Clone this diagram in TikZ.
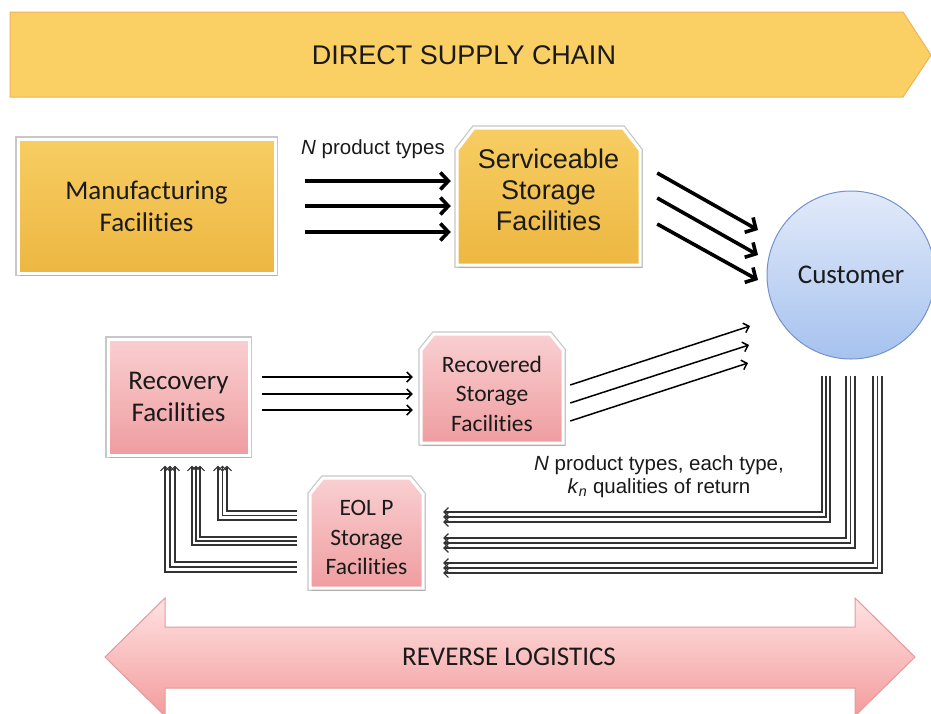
\documentclass[tikz,border=0pt]{standalone}
\usepackage{fontspec}
\setmainfont{Carlito}[Ligatures={NoCommon}]
\newfontfamily\arialf{Liberation Sans}
\usetikzlibrary{shadows,arrows.meta}
\definecolor{bannerY}{HTML}{FAD065}
\definecolor{bannerE}{HTML}{F2B25A}
\definecolor{goldT}{HTML}{F7CD62}
\definecolor{goldB}{HTML}{EDB742}
\definecolor{pinkT}{HTML}{F9CFD1}
\definecolor{pinkB}{HTML}{EF9DA0}
\definecolor{pinkBT}{HTML}{FFE2E2}
\definecolor{pinkBB}{HTML}{F39C9D}
\definecolor{pinkE}{HTML}{E39A9A}
\definecolor{blueT}{HTML}{E2EAFA}
\definecolor{blueB}{HTML}{A6C2EE}
\definecolor{blueE}{HTML}{7393CB}
\definecolor{txt}{HTML}{1A1A1A}
\definecolor{retc}{HTML}{333333}
\begin{document}
\begin{tikzpicture}[x=1pt,y=1pt,
  frame/.style={preaction={draw=black!22, line width=5.5pt},
    draw=white, line width=3pt,
    drop shadow={shadow xshift=1.5pt, shadow yshift=-3pt, opacity=0.3}},
  gbox/.style={frame, top color=goldT, bottom color=goldB},
  pbox/.style={frame, top color=pinkT, bottom color=pinkB},
  boxnode/.style={inner sep=0pt, draw=none},
  boxtext/.style={align=center, text=txt, font=\fontsize{27}{32}\selectfont},
  thickarrow/.style={line width=3.6pt, -{Straight Barb[length=8pt,width=17pt]}},
  thinarrow/.style={line width=1.5pt, -{Straight Barb[length=5pt,width=10pt]}},
  retline/.style={draw=retc, line width=1.1pt, -{Straight Barb[length=4.5pt,width=9pt]}}
]
\useasboundingbox (0,0) rectangle (931,-713);
\fill[white] (0,0) rectangle (931,-713);

% top banner
\path[fill=bannerY, draw=bannerE, line width=1pt] (10,-12) -- (903,-12) -- (931,-55) -- (903,-97) -- (10,-97) -- cycle;
\node[text=txt, font=\arialf\fontsize{27}{30}\selectfont] (dsc) at (464,-55) {DIRECT SUPPLY CHAIN};

% bottom banner
\path[top color=pinkBT, bottom color=pinkBB, draw=pinkE, line width=1pt]
  (105,-657) -- (165,-598) -- (165,-627) -- (855,-627) -- (855,-598) -- (915,-657)
  -- (855,-716) -- (855,-688) -- (165,-688) -- (165,-716) -- cycle;
\node[text=txt, font=\fontsize{27}{30}\selectfont] (rl) at (509,-657) {REVERSE LOGISTICS};

% manufacturing
\node[gbox, boxtext, minimum width=257pt, minimum height=134pt] (mf) at (146.5,-206) {Manufacturing\\Facilities};

% serviceable storage
\path[gbox] (457,-265) -- (457,-150) -- (474,-128) -- (623,-128) -- (640,-150) -- (640,-265) -- cycle;
\node[boxnode, minimum width=183pt, minimum height=137pt] (ss) at (548.5,-196.5) {};
\node[boxtext, font=\arialf\fontsize{27}{31}\selectfont] (sst) at (548.5,-189.5) {Serviceable\\Storage\\Facilities};

% customer
\node[circle, minimum size=168pt, inner sep=0pt, top color=blueT, bottom color=blueB, draw=blueE, line width=1pt, boxtext] (cu) at (851,-275) {Customer};

% recovery facilities
\node[pbox, boxtext, minimum width=141pt, minimum height=116pt] (rf) at (178.5,-397) {Recovery\\Facilities};

% recovered storage
\path[pbox] (421,-443) -- (421,-350) -- (434,-334) -- (550,-334) -- (563,-350) -- (563,-443) -- cycle;
\node[boxnode, minimum width=142pt, minimum height=109pt] (rs) at (492,-388.5) {};
\node[boxtext, font=\fontsize{23.5}{29.5}\selectfont] (rst) at (492,-393.5) {Recovered\\Storage\\Facilities};

% EOL storage
\path[pbox] (310,-588) -- (310,-494) -- (323,-478) -- (410,-478) -- (423,-494) -- (423,-588) -- cycle;
\node[boxnode, minimum width=113pt, minimum height=110pt] (eol) at (366.5,-533) {};
\node[boxtext, font=\fontsize{23.5}{29.5}\selectfont] (eolt) at (366.5,-537.5) {EOL P\\Storage\\Facilities};

% labels
\node[text=txt, font=\arialf\fontsize{20.5}{23}\selectfont] (lab1) at (373,-149) {\textit{N} product types};
\node[text=txt, align=center, font=\arialf\fontsize{20.5}{23.5}\selectfont] (lab2) at (659,-476.5)
  {\textit{N} product types, each type,\\\textit{k}\textsubscript{\textit{n}} qualities of return};

% manufacturing -> serviceable
\draw[thickarrow] ([shift={(28,25)}]mf.east) -- ([shift={(-6,15.5)}]ss.west);
\draw[thickarrow] ([shift={(28,0)}]mf.east) -- ([shift={(-6,-9.5)}]ss.west);
\draw[thickarrow] ([shift={(28,-26)}]mf.east) -- ([shift={(-6,-35.5)}]ss.west);

% serviceable -> customer
\draw[thickarrow] ([shift={(17,23.5)}]ss.east) -- ([shift={(-93,45)}]cu.center);
\draw[thickarrow] ([shift={(17,-1.5)}]ss.east) -- ([shift={(-93,20)}]cu.center);
\draw[thickarrow] ([shift={(17,-27.5)}]ss.east) -- ([shift={(-93,-5)}]cu.center);

% recovery -> recovered
\draw[thinarrow] ([shift={(11,20)}]rf.east) -- ([shift={(-8,11.5)}]rs.west);
\draw[thinarrow] ([shift={(11,3)}]rf.east) -- ([shift={(-8,-5.5)}]rs.west);
\draw[thinarrow] ([shift={(11,-13)}]rf.east) -- ([shift={(-8,-21.5)}]rs.west);

% recovered -> customer
\draw[thinarrow] ([shift={(7,3.5)}]rs.east) -- ([shift={(-101,-51)}]cu.center);
\draw[thinarrow] ([shift={(7,-14.5)}]rs.east) -- ([shift={(-102,-70)}]cu.center);
\draw[thinarrow] ([shift={(7,-32.5)}]rs.east) -- ([shift={(-103,-88)}]cu.center);

% customer -> EOL storage (returns)
\draw[retline] ([shift={(-29,-16)}]cu.south) |- ([shift={(20,21)}]eol.east);
\draw[retline] ([shift={(-25,-16)}]cu.south) |- ([shift={(20,16)}]eol.east);
\draw[retline] ([shift={(-21,-16)}]cu.south) |- ([shift={(20,11)}]eol.east);
\draw[retline] ([shift={(-5,-16)}]cu.south) |- ([shift={(20,-5)}]eol.east);
\draw[retline] ([shift={(-0.5,-16)}]cu.south) |- ([shift={(20,-10)}]eol.east);
\draw[retline] ([shift={(4,-16)}]cu.south) |- ([shift={(20,-15)}]eol.east);
\draw[retline] ([shift={(22,-16)}]cu.south) |- ([shift={(20,-30)}]eol.east);
\draw[retline] ([shift={(26.5,-16)}]cu.south) |- ([shift={(20,-35)}]eol.east);
\draw[retline] ([shift={(31,-16)}]cu.south) |- ([shift={(20,-40)}]eol.east);

% EOL storage -> recovery
\draw[retline] ([shift={(-13,22)}]eol.west) -| ([shift={(48.5,-9)}]rf.south);
\draw[retline] ([shift={(-13,17.5)}]eol.west) -| ([shift={(44,-9)}]rf.south);
\draw[retline] ([shift={(-13,13)}]eol.west) -| ([shift={(39.5,-9)}]rf.south);
\draw[retline] ([shift={(-13,-4)}]eol.west) -| ([shift={(21.5,-9)}]rf.south);
\draw[retline] ([shift={(-13,-8)}]eol.west) -| ([shift={(17.5,-9)}]rf.south);
\draw[retline] ([shift={(-13,-12)}]eol.west) -| ([shift={(13.5,-9)}]rf.south);
\draw[retline] ([shift={(-13,-29)}]eol.west) -| ([shift={(-3.5,-9)}]rf.south);
\draw[retline] ([shift={(-13,-34)}]eol.west) -| ([shift={(-8.5,-9)}]rf.south);
\draw[retline] ([shift={(-13,-39)}]eol.west) -| ([shift={(-13.5,-9)}]rf.south);
\end{tikzpicture}
\end{document}
